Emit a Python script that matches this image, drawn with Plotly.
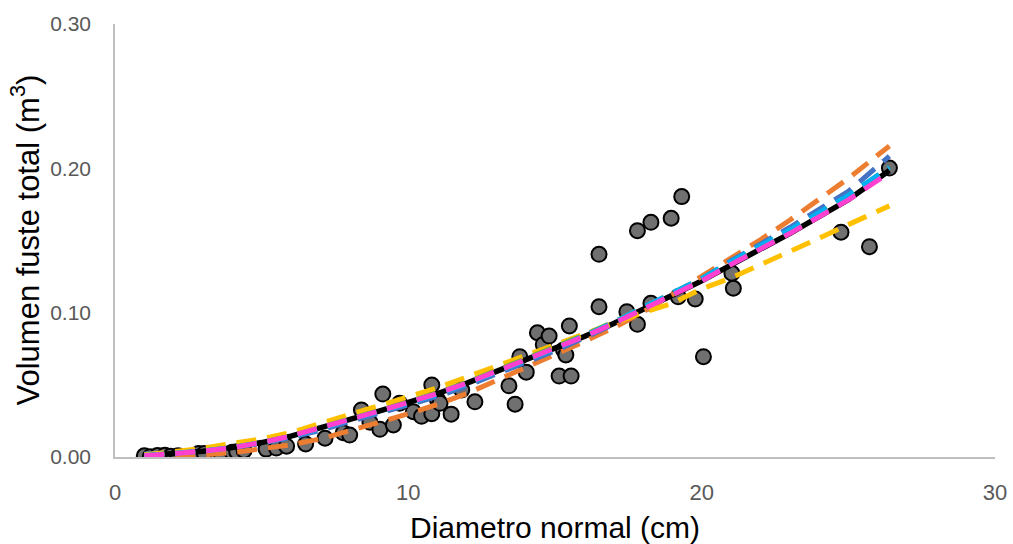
import plotly.graph_objects as go

# Observed trees: normal diameter (cm) and total stem volume (m3)
diametro = [1.0, 1.2, 1.45, 1.7, 1.9, 2.15, 2.85, 3.05, 3.6, 4.0, 4.15, 4.4,
            5.15, 5.5, 5.85, 6.5, 7.16, 7.78, 8.0, 8.4, 8.69, 9.03, 9.13,
            9.49, 9.7, 10.17, 10.45, 10.8, 10.8, 10.99, 11.08, 11.46, 11.82,
            12.27, 13.43, 13.64, 13.8, 14.02, 14.4, 14.6, 14.8, 15.14, 15.29,
            15.37, 15.49, 15.55, 16.5, 16.5, 17.45, 17.81, 17.81, 18.27,
            18.27, 18.96, 19.2, 19.32, 19.78, 20.06, 21.03, 21.08, 24.75,
            25.72, 26.4]
volumen = [0.0008, 0.0002, 0.0010, 0.0012, 0.0006, 0.0008, 0.0025, 0.0025,
           0.0030, 0.0033, 0.0037, 0.0045, 0.0055, 0.0062, 0.0075, 0.0090,
           0.0130, 0.0168, 0.0152, 0.0326, 0.0240, 0.0192, 0.0436, 0.0222,
           0.0372, 0.0314, 0.0282, 0.0300, 0.0499, 0.0400, 0.0372, 0.0297,
           0.0464, 0.0382, 0.0493, 0.0366, 0.0695, 0.0588, 0.0861, 0.0780,
           0.0838, 0.0561, 0.0741, 0.0707, 0.0908, 0.0561, 0.1404, 0.1041,
           0.1007, 0.1568, 0.0919, 0.1626, 0.1065, 0.1654, 0.1110, 0.1804,
           0.1095, 0.0695, 0.1273, 0.1169, 0.1557, 0.1457, 0.2002]

# Fitted volume models evaluated along the diameter range
d_modelo = [1, 2, 3, 4, 5, 6, 7, 8, 9, 10, 11, 12, 13, 14, 15, 16, 17, 18,
            19, 20, 21, 22, 23, 24, 25, 26.4]
v_ajuste = [0.0008, 0.0022, 0.0040, 0.0065, 0.0100, 0.0145, 0.0200, 0.0263,
            0.0318, 0.0378, 0.0440, 0.0512, 0.0593, 0.0670, 0.0748, 0.0835,
            0.0925, 0.1027, 0.1120, 0.1220, 0.1335, 0.1440, 0.1548, 0.1665,
            0.1782, 0.1985]
v_modelo_1 = [0.0020, 0.0030, 0.0045, 0.0068, 0.0095, 0.0135, 0.0185, 0.0245,
              0.0300, 0.0360, 0.0420, 0.0492, 0.0575, 0.0652, 0.0735, 0.0825,
              0.0920, 0.1028, 0.1130, 0.1235, 0.1360, 0.1475, 0.1590, 0.1715,
              0.1840, 0.2085]
v_modelo_2 = [0.0000, 0.0005, 0.0015, 0.0030, 0.0055, 0.0085, 0.0125, 0.0180,
              0.0240, 0.0300, 0.0365, 0.0440, 0.0530, 0.0615, 0.0705, 0.0800,
              0.0895, 0.1005, 0.1125, 0.1250, 0.1380, 0.1505, 0.1640, 0.1780,
              0.1930, 0.2155]
v_modelo_3 = [0.0015, 0.0035, 0.0060, 0.0095, 0.0125, 0.0170, 0.0235, 0.0295,
              0.0355, 0.0420, 0.0480, 0.0555, 0.0630, 0.0705, 0.0780, 0.0855,
              0.0930, 0.1000, 0.1065, 0.1165, 0.1240, 0.1330, 0.1420, 0.1515,
              0.1610, 0.1740]
v_modelo_4 = [0.0010, 0.0024, 0.0042, 0.0066, 0.0100, 0.0143, 0.0196, 0.0258,
              0.0312, 0.0372, 0.0434, 0.0506, 0.0588, 0.0668, 0.0750, 0.0840,
              0.0932, 0.1037, 0.1133, 0.1236, 0.1354, 0.1462, 0.1574, 0.1693,
              0.1813, 0.2007]
v_modelo_5 = [0.0009, 0.0023, 0.0041, 0.0066, 0.0101, 0.0146, 0.0202, 0.0265,
              0.0321, 0.0382, 0.0445, 0.0518, 0.0600, 0.0678, 0.0757, 0.0845,
              0.0936, 0.1039, 0.1133, 0.1234, 0.1350, 0.1457, 0.1567, 0.1686,
              0.1805, 0.2005]
v_modelo_6 = [0.0008, 0.0022, 0.0040, 0.0065, 0.0100, 0.0145, 0.0200, 0.0262,
              0.0318, 0.0378, 0.0440, 0.0512, 0.0592, 0.0670, 0.0748, 0.0835,
              0.0925, 0.1026, 0.1120, 0.1220, 0.1334, 0.1440, 0.1548, 0.1664,
              0.1781, 0.1970]

modelos = [
    (v_modelo_2, "#ED7D31"),
    (v_modelo_1, "#4472C4"),
    (v_modelo_3, "#FFC000"),
    (v_modelo_5, "#70AD47"),
    (v_modelo_4, "#00B0F0"),
    (v_modelo_6, "#FF40D0"),
]

sans = "Liberation Sans, Arial, sans-serif"

fig = go.Figure()

fig.add_trace(go.Scatter(
    x=diametro, y=volumen, mode="markers",
    marker=dict(size=15, color="#707070", line=dict(color="#000000", width=2)),
    showlegend=False, hoverinfo="x+y",
))

fig.add_trace(go.Scatter(
    x=d_modelo, y=v_ajuste, mode="lines",
    line=dict(color="#000000", width=5.5),
    showlegend=False,
))

for valores, color in modelos:
    fig.add_trace(go.Scatter(
        x=d_modelo, y=valores, mode="lines",
        line=dict(color=color, width=5, dash="20px,11px"),
        showlegend=False,
    ))

fig.update_layout(
    width=1013, height=544,
    margin=dict(l=115, r=18, t=24, b=87),
    paper_bgcolor="white", plot_bgcolor="white",
    font=dict(family=sans, color="#000000"),
)

fig.update_xaxes(
    range=[0, 30], tickvals=[0, 10, 20, 30], ticktext=["0", "10", "20", "30"],
    showgrid=False, zeroline=False, showline=True, automargin=False,
    linecolor="#BFBFBF", linewidth=1.5,
    ticks="", ticklabelstandoff=15,
    tickfont=dict(family=sans, size=22, color="#595959"),
)

fig.update_yaxes(
    range=[0, 0.30], tickvals=[0, 0.1, 0.2, 0.3],
    ticktext=["0.00", "0.10", "0.20", "0.30"],
    showgrid=False, zeroline=False, showline=True, automargin=False,
    linecolor="#BFBFBF", linewidth=1.5,
    ticks="", ticklabelstandoff=18,
    tickfont=dict(family=sans, size=21, color="#595959"),
)

# Axis titles placed in paper coordinates
fig.add_annotation(
    text="Diametro normal (cm)", xref="paper", yref="paper",
    x=0.5, y=0, yshift=-70, xanchor="center", yanchor="middle",
    showarrow=False, font=dict(family=sans, size=30, color="#000000"),
)
fig.add_annotation(
    text="Volumen fuste total (m<sup>3</sup>)", xref="paper", yref="paper",
    x=0, y=0.5, xshift=-90, xanchor="center", yanchor="middle",
    textangle=-90, showarrow=False,
    font=dict(family=sans, size=31, color="#000000"),
)

fig.write_html("out.html")
